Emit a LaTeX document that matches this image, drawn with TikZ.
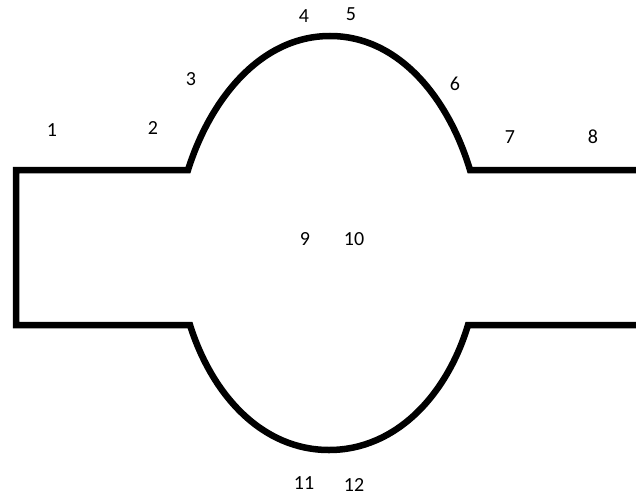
\documentclass[tikz,border=0pt]{standalone}
\usepackage{fontspec}
\setmainfont{Carlito}
\tikzset{
  outline/.style={line width=6.5pt, black},
  numlabel/.style={inner sep=0pt, font=\fontsize{20}{22}\selectfont}
}

\begin{document}
\begin{tikzpicture}[x=1pt,y=-1pt]
\useasboundingbox (0,0) rectangle (636,500);
% channel outline
\draw[outline] (636,170) -- (470,170)
  .. controls (449,100) and (400,36) .. (330,36)
  .. controls (260,36) and (210,100) .. (188,170)
  -- (16,170) -- (16,325) -- (190,325)
  .. controls (212,395) and (262,450) .. (329,450)
  .. controls (396,450) and (447,395) .. (468,325)
  -- (636,325);
% numbers
\node[numlabel] (n1) at (52,130) {1};
\node[numlabel] (n2) at (153,128) {2};
\node[numlabel] (n3) at (191,79) {3};
\node[numlabel] (n4) at (304,16) {4};
\node[numlabel] (n5) at (351,14) {5};
\node[numlabel] (n6) at (455,84) {6};
\node[numlabel] (n7) at (510,137) {7};
\node[numlabel] (n8) at (593,137) {8};
\node[numlabel] (n9) at (305,239) {9};
\node[numlabel] (n10) at (354,239) {10};
\node[numlabel] (n11) at (304,483) {11};
\node[numlabel] (n12) at (354,485) {12};
\end{tikzpicture}
\end{document}
